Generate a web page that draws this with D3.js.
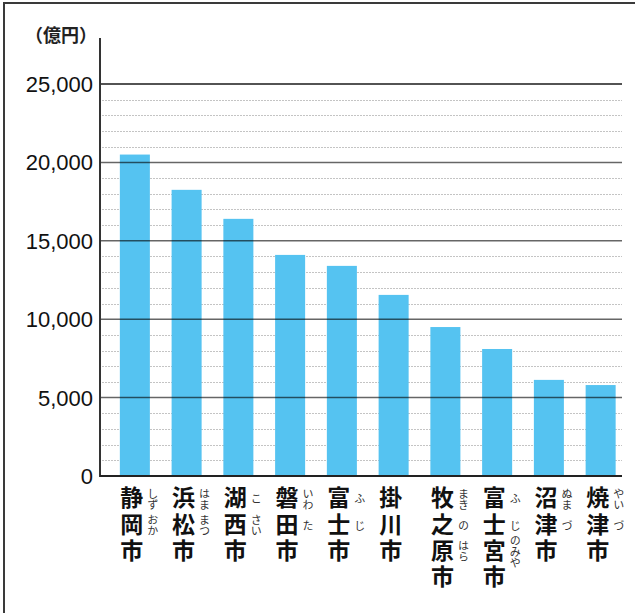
<!DOCTYPE html>
<html>
<head>
<meta charset="utf-8">
<script src="https://cdn.jsdelivr.net/npm/d3@7"></script>
<style>
  html, body { margin: 0; padding: 0; background: #fff; }
  svg { display: block; }
  .vert { writing-mode: vertical-rl; text-orientation: upright; }
</style>
</head>
<body>
<svg id="chart" width="635" height="613"></svg>
<script>
// City names (drawn vertically)
const cities = ["静岡市", "浜松市", "湖西市", "磐田市", "富士市", "掛川市", "牧之原市", "富士宮市", "沼津市", "焼津市"];
// Furigana for each character of the name
const readings = [
  ["しず", "おか", ""],
  ["はま", "まつ", ""],
  ["こ", "さい", ""],
  ["いわ", "た", ""],
  ["ふ", "じ", ""],
  ["", "", ""],
  ["まき", "の", "はら", ""],
  ["ふ", "じ", "のみや", ""],
  ["ぬま", "づ", ""],
  ["やい", "づ", ""]
];
// Values in 億円
const values = [20500, 18250, 16400, 14100, 13400, 11550, 9500, 8100, 6130, 5800];
const majorTicks = [0, 5000, 10000, 15000, 20000, 25000];
const minorTicks = d3.range(1000, 25000, 1000).filter(v => v % 5000 !== 0);
const unitLabel = "（億円）";

const svg = d3.select("#chart");
const plotLeft = 100, plotRight = 622, plotTop = 84, plotBottom = 476;

// outer frame (open to the right and bottom)
svg.append("rect")
  .attr("x", 4).attr("y", 3).attr("width", 700).attr("height", 700)
  .attr("fill", "none").attr("stroke", "#3a3a3a").attr("stroke-width", 2);

const y = d3.scaleLinear().domain([0, 25000]).range([plotBottom, plotTop]);
const x = d3.scaleBand().domain(cities).range([109.5, 626]).paddingInner(0.42).paddingOuter(0.2);

// dotted minor gridlines (behind bars)
svg.append("g").selectAll("line").data(minorTicks).join("line")
  .attr("x1", plotLeft + 2).attr("x2", plotRight)
  .attr("y1", d => Math.round(y(d)) + 0.5).attr("y2", d => Math.round(y(d)) + 0.5)
  .attr("stroke", "#c4c4c4").attr("stroke-width", 1).attr("stroke-dasharray", "2,1");

// bars
svg.append("g").selectAll("rect").data(values).join("rect")
  .attr("x", (d, i) => x(cities[i]))
  .attr("width", x.bandwidth())
  .attr("y", d => y(d))
  .attr("height", d => plotBottom - y(d))
  .attr("fill", "#55c3f1");

// major gridlines, drawn over the bars
svg.append("g").selectAll("line").data(majorTicks.filter(d => d > 0)).join("line")
  .attr("x1", plotLeft).attr("x2", plotRight)
  .attr("y1", d => y(d)).attr("y2", d => y(d))
  .attr("stroke", "#000").attr("stroke-opacity", d => d === 25000 ? 0.9 : 0.6)
  .attr("stroke-width", 1.5);

// y axis line and baseline
svg.append("line").attr("x1", plotLeft).attr("x2", plotLeft).attr("y1", 38).attr("y2", plotBottom + 1)
  .attr("stroke", "#333").attr("stroke-width", 2);
svg.append("line").attr("x1", plotLeft).attr("x2", plotRight).attr("y1", plotBottom).attr("y2", plotBottom)
  .attr("stroke", "#222").attr("stroke-width", 2);

// tick labels
const fmt = d3.format(",");
svg.append("g").selectAll("text").data(majorTicks).join("text")
  .attr("x", 93).attr("y", d => y(d) + 8)
  .attr("text-anchor", "end")
  .attr("font-family", "'Liberation Sans', Arial, sans-serif")
  .attr("font-size", 22)
  .attr("fill", "#111")
  .text(d => fmt(d));

// unit label
svg.append("text")
  .attr("x", 61).attr("y", 42).attr("text-anchor", "middle")
  .attr("font-family", "'Noto Sans CJK JP', sans-serif")
  .attr("font-size", 18).attr("font-weight", "bold")
  .attr("fill", "#222")
  .text(unitLabel);

// vertical city names with furigana
const rowH = 26.3, nameTop = 486, nameSize = 23;
const names = svg.append("g");
cities.forEach((name, i) => {
  const cx = x(name) + x.bandwidth() / 2 - 3;
  names.append("text")
    .attr("class", "vert")
    .attr("x", cx).attr("y", nameTop)
    .attr("font-family", "'Noto Sans CJK JP', sans-serif")
    .attr("font-size", nameSize).attr("font-weight", "bold")
    .attr("letter-spacing", rowH - nameSize)
    .attr("fill", "#111")
    .text(name);
  readings[i].forEach((r, j) => {
    if (!r) return;
    names.append("text")
      .attr("class", "vert")
      .attr("x", cx + 21).attr("y", nameTop + j * rowH + rowH / 2)
      .attr("text-anchor", "middle")
      .attr("font-family", "'Noto Sans CJK JP', sans-serif")
      .attr("font-size", 11)
      .attr("fill", "#333")
      .text(r);
  });
});
</script>
</body>
</html>
